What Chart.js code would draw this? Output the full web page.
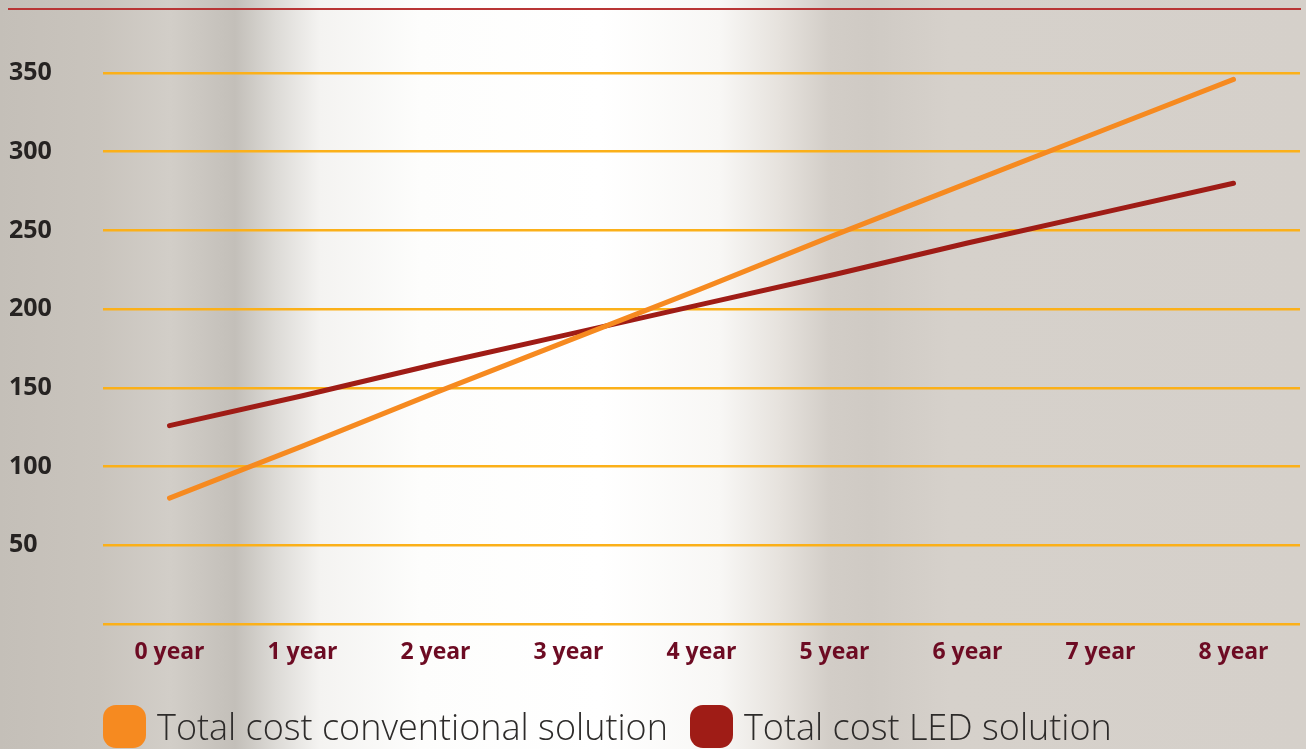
<!DOCTYPE html>
<html>
<head>
<meta charset="utf-8">
<script src="https://cdn.jsdelivr.net/npm/chart.js@4"></script>
<style>
    html, body {
        margin: 0;
        padding: 0;
    }
    body {
        width: 1306px;
        height: 749px;
        overflow: hidden;
        position: relative;
        background: linear-gradient(90deg,
            #c4bfb8 0px, #c9c4bd 100px, #d2cec8 170px, #c3bfb9 235px,
            #dcdad6 275px, #f4f3f1 320px, #fdfdfc 420px, #ffffff 600px,
            #f8f7f5 720px, #e6e2dd 780px, #d2cdc7 830px, #cfcac4 870px,
            #d6d1cb 950px, #d5d0ca 1306px);
    }
    .top-rule {
        position: absolute;
        left: 8px;
        right: 5px;
        top: 8px;
        height: 2px;
        background: #b83535;
    }
    .chart-wrap {
        position: absolute;
        left: 0;
        top: 0;
        width: 1306px;
        height: 749px;
    }
    #legend {
        position: absolute;
        left: 103px;
        top: 702px;
        display: flex;
        align-items: center;
        font-family: 'Open Sans', 'Lato', sans-serif;
        font-weight: 300;
        font-size: 36px;
        color: #2d2b2a;
        white-space: nowrap;
    }
    #legend .item {
        display: flex;
        align-items: center;
        margin-right: 22px;
    }
    #legend .swatch {
        width: 43px;
        height: 43px;
        border-radius: 13px;
        margin-right: 11px;
    }
</style>
</head>
<body>
<div class="top-rule"></div>
<div class="chart-wrap"><canvas id="costChart" width="1306" height="749"></canvas></div>
<div id="legend"></div>

<script>
/* ==========================================================================
   Data
   ========================================================================== */

const years = ['0 year', '1 year', '2 year', '3 year', '4 year', '5 year', '6 year', '7 year', '8 year'];
const conventionalCost = [80, 113, 147, 180, 213, 247, 280, 313, 346];
const ledCost = [126, 145, 165, 184, 203, 222, 242, 261, 280];
const yTicks = [0, 50, 100, 150, 200, 250, 300, 350];

const seriesNames = ['Total cost conventional solution', 'Total cost LED solution'];
const seriesColors = ['#f68a20', '#9f1c16'];

/* ==========================================================================
   Chart
   ========================================================================== */

const ctx = document.getElementById('costChart').getContext('2d');

const costChart = new Chart(ctx, {
    type: 'line',
    data: {
        labels: years,
        datasets: [
            {
                label: seriesNames[0],
                data: conventionalCost,
                borderColor: seriesColors[0],
                backgroundColor: seriesColors[0],
                borderWidth: 5,
                borderCapStyle: 'round',
                pointRadius: 0,
                tension: 0
            },
            {
                label: seriesNames[1],
                data: ledCost,
                borderColor: seriesColors[1],
                backgroundColor: seriesColors[1],
                borderWidth: 5,
                borderCapStyle: 'round',
                pointRadius: 0,
                tension: 0
            }
        ]
    },
    options: {
        responsive: false,
        animation: false,
        layout: {
            padding: { left: 9, right: 6, top: 73, bottom: 69 }
        },
        plugins: {
            legend: { display: false },
            tooltip: { enabled: false }
        },
        scales: {
            x: {
                offset: true,
                afterFit: function(scale) {
                    scale.height = 56;
                },
                grid: { display: false },
                border: { display: false },
                ticks: {
                    color: '#6d0b23',
                    padding: 7,
                    maxRotation: 0,
                    font: {
                        family: "'Open Sans', sans-serif",
                        size: 23,
                        weight: 'bold'
                    }
                }
            },
            y: {
                min: 0,
                max: 350,
                afterBuildTicks: function(scale) {
                    scale.ticks = yTicks.map(v => ({ value: v }));
                },
                afterFit: function(scale) {
                    scale.width = 94;
                },
                grid: {
                    color: '#fbb019',
                    lineWidth: 2.5,
                    drawTicks: false
                },
                border: { display: false },
                ticks: {
                    color: '#262322',
                    crossAlign: 'far',
                    padding: 0,
                    font: {
                        family: "'Open Sans', sans-serif",
                        size: 25,
                        weight: 'bold'
                    },
                    callback: function(value) {
                        return value === 0 ? '' : value;
                    }
                }
            }
        }
    }
});

/* ==========================================================================
   Legend
   ========================================================================== */

const legendEl = document.getElementById('legend');
costChart.data.datasets.forEach(ds => {
    const item = document.createElement('div');
    item.className = 'item';
    const swatch = document.createElement('span');
    swatch.className = 'swatch';
    swatch.style.background = ds.borderColor;
    const text = document.createElement('span');
    text.textContent = ds.label;
    item.appendChild(swatch);
    item.appendChild(text);
    legendEl.appendChild(item);
});
</script>
</body>
</html>
